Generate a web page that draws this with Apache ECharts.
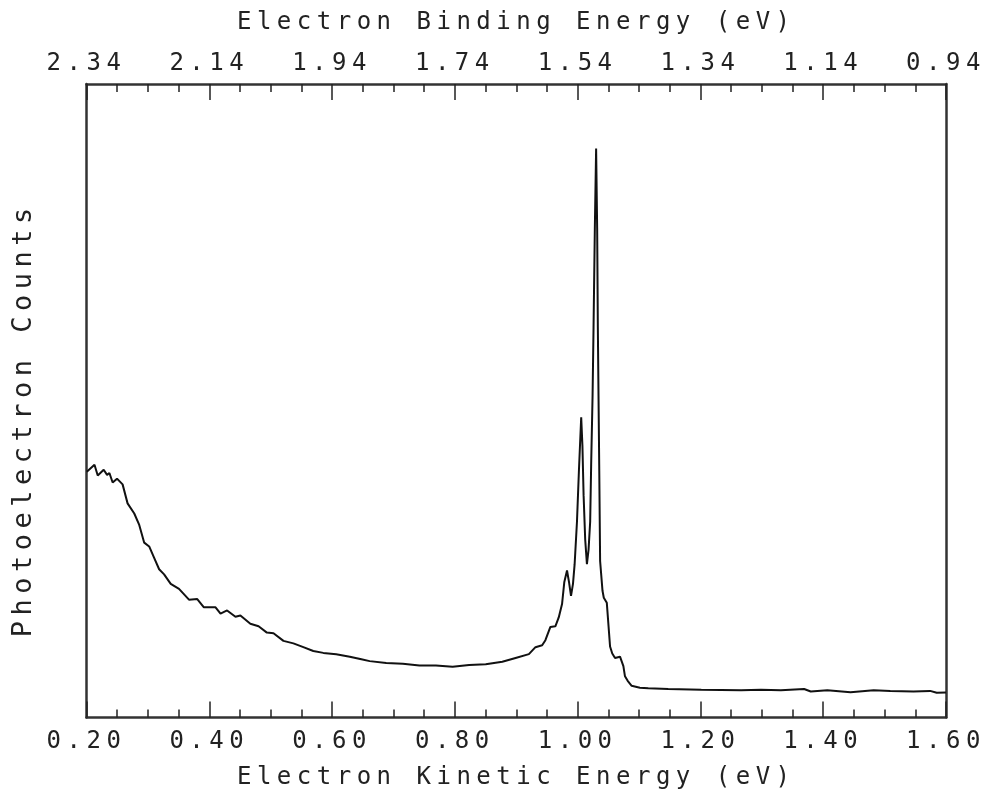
<!DOCTYPE html>
<html>
<head>
<meta charset="utf-8">
<title>Photoelectron spectrum</title>
<script src="https://cdn.jsdelivr.net/npm/echarts@6/dist/echarts.min.js"></script>
<style>
  html, body { margin: 0; padding: 0; background: #fff; }
  #container { width: 990px; height: 798px; }
</style>
</head>
<body>
<div id="container"></div>
<script>
// kinetic energy (eV)
var kineticEnergy = [
  0.2005,0.2130,0.2183,0.2280,0.2335,0.2373,0.2426,0.2497,0.2588,0.2669,
  0.2778,0.2859,0.2940,0.3021,0.3102,0.3183,0.3264,0.3372,0.3507,0.3669,
  0.3804,0.3912,0.4102,0.4183,0.4290,0.4426,0.4507,0.4669,0.4803,0.4938,
  0.5046,0.5208,0.5370,0.5532,0.5694,0.5857,0.6067,0.6289,0.6477,0.6613,
  0.6882,0.7153,0.7423,0.7692,0.7963,0.8233,0.8503,0.8773,0.8989,0.9206,
  0.9313,0.9422,0.9475,0.9556,0.9637,0.9692,0.9746,0.9783,0.9827,0.9859,
  0.9892,0.9924,0.9951,0.9989,1.0021,1.0058,1.0078,1.0097,1.0123,1.0151,
  1.0178,1.0204,1.0220,1.0243,1.0259,1.0280,1.0301,1.0318,1.0329,1.0340,
  1.0353,1.0366,1.0405,1.0426,1.0475,1.0528,1.0564,1.0609,1.0690,1.0745,
  1.0771,1.0815,1.0880,1.1014,1.1150,1.1475,1.2014,1.2662,1.2986,1.3310,
  1.3688,1.3797,1.4067,1.4445,1.4822,1.5093,1.5470,1.5741,1.5849,1.6000
];

// photoelectron counts (arbitrary units, no scale on the plot)
var counts = [
  388,399,382,391,383,386,371,377,368,338,
  322,304,276,270,252,234,226,211,203,186,
  187,174,174,164,169,159,161,148,144,134,
  133,121,117,111,105,102,100,96,92,89,
  86,85,82,82,80,83,84,88,94,100,
  111,114,122,143,144,158,179,214,232,214,
  192,211,242,309,390,474,429,351,281,242,
  265,309,398,507,616,772,898,772,616,507,
  382,247,200,189,181,112,101,94,96,81,
  65,58,50,47,46,45,44,43,44,43,
  45,41,43,40,43,42,41,42,39,39.5
];

// binding energy = photon energy - kinetic energy
var photonEnergy = 2.54;
var keMin = 0.2, keMax = 1.6, keStep = 0.2;

// the plotter lettering is spaced out wide; canvas text gets the same spacing
// for drawing and for measuring so the layout stays consistent
(function () {
  var spacing = "5.5px";
  var proto = CanvasRenderingContext2D.prototype;
  var fill = proto.fillText, measure = proto.measureText;
  proto.fillText = function () { this.letterSpacing = spacing; return fill.apply(this, arguments); };
  proto.measureText = function () { this.letterSpacing = spacing; return measure.apply(this, arguments); };
})();

var dom = document.getElementById("container");
var myChart = echarts.init(dom);

var points = [];
for (var i = 0; i < kineticEnergy.length; i++) {
  points.push([kineticEnergy[i], counts[i]]);
}

var font = "DejaVu Sans Mono";
var ink = "#222";

function frameLine() {
  return { show: true, onZero: false, lineStyle: { color: "#333", width: 2.5 } };
}

function energyAxis(pos, fmt, axisName, margin) {
  return {
    type: "value",
    position: pos,
    min: keMin,
    max: keMax,
    interval: keStep,
    name: axisName,
    nameLocation: "middle",
    nameGap: 46,
    nameTextStyle: { fontFamily: font, fontSize: 24, color: ink },
    axisLine: frameLine(),
    axisTick: { show: true, inside: true, length: 16, lineStyle: { color: ink, width: 1.5 } },
    minorTick: { show: true, splitNumber: 4, length: 8, lineStyle: { color: ink, width: 1.5 } },
    axisLabel: {
      margin: margin,
      fontFamily: font,
      fontSize: 24,
      color: ink,
      formatter: fmt
    },
    splitLine: { show: false },
    minorSplitLine: { show: false }
  };
}

var option = {
  animation: false,
  backgroundColor: "#fff",
  grid: { left: 82, right: 44, top: 84, bottom: 73 },
  xAxis: [
    energyAxis("bottom", function (v) { return v.toFixed(2); },
      "Electron Kinetic Energy (eV)", 10),
    energyAxis("top", function (v) { return (photonEnergy - v).toFixed(2); },
      "Electron Binding Energy (eV)", 5)
  ],
  yAxis: [
    {
      type: "value",
      position: "left",
      min: 0,
      max: 1000,
      name: "Photoelectron Counts",
      nameLocation: "middle",
      nameGap: 46,
      nameTextStyle: { fontFamily: font, fontSize: 27, color: ink, padding: [0, 38, 0, 0] },
      axisLine: frameLine(),
      axisTick: { show: false },
      axisLabel: { show: false },
      splitLine: { show: false }
    },
    {
      type: "value",
      position: "right",
      min: 0,
      max: 1000,
      axisLine: frameLine(),
      axisTick: { show: false },
      axisLabel: { show: false },
      splitLine: { show: false }
    }
  ],
  series: [
    {
      type: "line",
      xAxisIndex: 0,
      yAxisIndex: 0,
      data: points,
      symbol: "none",
      smooth: false,
      lineStyle: { color: "#111", width: 2 }
    }
  ]
};

myChart.setOption(option);
</script>
</body>
</html>
